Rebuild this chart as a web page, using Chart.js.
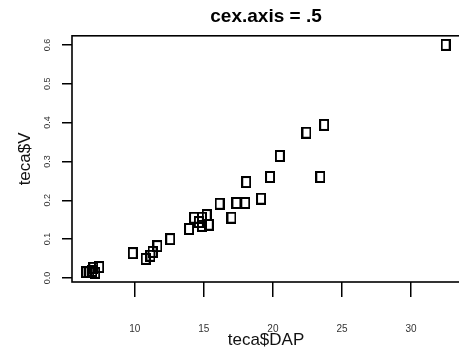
<!DOCTYPE html>
<html>
<head>
<meta charset="utf-8">
<script src="https://cdn.jsdelivr.net/npm/chart.js@4.4.1/dist/chart.umd.min.js"></script>
<style>
    body { margin: 0; overflow: hidden; background: #fff; }
    #wrap { width: 466px; height: 364px; }
</style>
</head>
<body>
<div id="wrap"><canvas id="scatter"></canvas></div>
<script>
// teca data
const dap = [6.50, 6.71, 6.93, 7.00, 7.14, 7.43, 9.86, 10.79, 11.14, 11.29, 11.64, 12.57,
    13.93, 14.29, 14.64, 14.86, 14.86, 15.21, 15.36, 16.14, 17.00, 17.36, 18.00, 18.07,
    19.14, 19.79, 20.50, 22.43, 23.71, 23.43, 32.50];
const vol = [0.015, 0.015, 0.018, 0.026, 0.013, 0.028, 0.064, 0.049, 0.057, 0.067, 0.082, 0.100,
    0.126, 0.155, 0.144, 0.134, 0.155, 0.162, 0.137, 0.191, 0.155, 0.193, 0.193, 0.247,
    0.204, 0.260, 0.314, 0.374, 0.394, 0.260, 0.600];
const xTicks = [10, 15, 20, 25, 30];
const yTicks = [0.0, 0.1, 0.2, 0.3, 0.4, 0.5, 0.6];

const points = dap.map((d, i) => ({x: d, y: vol[i]}));

// open square marker, a bit taller than wide like the picture
function makeMarker() {
    const c = document.createElement('canvas');
    c.width = 10;
    c.height = 12;
    const g = c.getContext('2d');
    g.strokeStyle = '#000';
    g.lineWidth = 2;
    g.strokeRect(1, 1, 8, 10);
    return c;
}

// R style box round the plotting region
const boxPlugin = {
    id: 'box',
    afterDraw(chart) {
        const a = chart.chartArea;
        const ctx = chart.ctx;
        ctx.save();
        ctx.strokeStyle = '#000';
        ctx.lineWidth = 1.6;
        ctx.strokeRect(a.left, a.top, a.right - a.left, a.bottom - a.top);
        ctx.restore();
    }
};

new Chart(document.getElementById('scatter'), {
    type: 'scatter',
    data: {
        datasets: [{
            data: points,
            pointStyle: makeMarker(),
            pointRadius: 5,
            pointHoverRadius: 5
        }]
    },
    options: {
        responsive: true,
        maintainAspectRatio: false,
        animation: false,
        layout: { padding: { left: 0, right: 1, top: 0, bottom: 0 } },
        plugins: {
            legend: { display: false },
            tooltip: { enabled: false },
            title: {
                display: true,
                text: 'cex.axis = .5',
                fullSize: false,
                color: '#000',
                font: { family: 'Liberation Sans', size: 19, weight: 'bold' },
                padding: { top: 5, bottom: 8 }
            }
        },
        scales: {
            x: {
                type: 'linear',
                min: 5.46,
                max: 33.54,
                afterFit: s => { s.height = 82; },
                afterBuildTicks: s => { s.ticks = xTicks.map(v => ({value: v})); },
                border: { display: false },
                grid: { drawOnChartArea: false, tickLength: 15, tickColor: '#000', lineWidth: 1.5 },
                ticks: {
                    color: '#333',
                    padding: 26,
                    maxRotation: 0,
                    font: { family: 'Liberation Sans', size: 10 }
                },
                title: {
                    display: true,
                    text: 'teca$DAP',
                    color: '#111',
                    font: { family: 'Liberation Sans', size: 17 },
                    padding: { top: 0, bottom: 13 }
                }
            },
            y: {
                type: 'linear',
                min: -0.0105,
                max: 0.6235,
                afterFit: s => { s.width = 72; },
                afterBuildTicks: s => { s.ticks = yTicks.map(v => ({value: v})); },
                border: { display: false },
                grid: { drawOnChartArea: false, tickLength: 10, tickColor: '#000', lineWidth: 1.5 },
                ticks: {
                    color: '#333',
                    padding: 8,
                    minRotation: 90,
                    maxRotation: 90,
                    crossAlign: 'center',
                    font: { family: 'Liberation Sans', size: 9 },
                    callback: v => v.toFixed(1)
                },
                title: {
                    display: true,
                    text: 'teca$V',
                    color: '#111',
                    font: { family: 'Liberation Sans', size: 17 },
                    padding: { top: 15, bottom: 0 }
                }
            }
        }
    },
    plugins: [boxPlugin]
});
</script>
</body>
</html>
